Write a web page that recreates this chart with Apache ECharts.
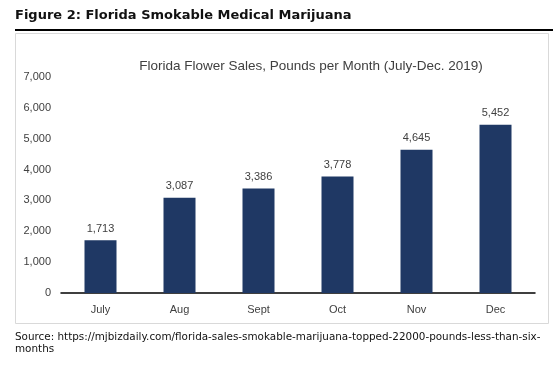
<!DOCTYPE html>
<html><head><meta charset="utf-8">
<script src="https://cdn.jsdelivr.net/npm/echarts@6/dist/echarts.min.js"></script>
<style>html,body{margin:0;padding:0;background:#fff}#c{width:553px;height:368px}</style>
</head><body><div id="c"></div>
<script>
const categories = ["July", "Aug", "Sept", "Oct", "Nov", "Dec"];
const pounds = [1713, 3087, 3386, 3778, 4645, 5452];
const yTicks = [0, 1000, 2000, 3000, 4000, 5000, 6000, 7000];
const figureTitle = "Figure 2: Florida Smokable Medical Marijuana";
const chartTitle = "Florida Flower Sales, Pounds per Month (July-Dec. 2019)";
const sourceLines = ["Source: https://mjbizdaily.com/florida-sales-smokable-marijuana-topped-22000-pounds-less-than-six-", "months"];

const fmt = v => v.toLocaleString("en-US");
const chart = echarts.init(document.getElementById("c"), null, {renderer: "canvas"});
chart.setOption({
  animation: false,
  backgroundColor: "#fff",
  grid: {left: 61, right: 18, top: 77, bottom: 75},
  xAxis: {
    type: "category", data: categories,
    axisLine: {lineStyle: {color: "#000", width: 1.5}},
    axisTick: {show: false},
    axisLabel: {color: "#404040", fontFamily: "Liberation Sans", fontSize: 11, margin: 11}
  },
  yAxis: {
    type: "value", min: yTicks[0], max: yTicks[yTicks.length - 1], interval: 1000,
    axisLine: {show: false}, axisTick: {show: false}, splitLine: {show: false},
    axisLabel: {color: "#404040", fontFamily: "Liberation Sans", fontSize: 11, margin: 10, formatter: v => fmt(v)}
  },
  series: [{
    type: "bar", data: pounds, barWidth: 32,
    itemStyle: {color: "#1f3864"},
    label: {show: true, position: "top", distance: 6, color: "#404040", fontFamily: "Liberation Sans", fontSize: 11, formatter: p => fmt(p.value)}
  }],
  graphic: [
    {type: "text", left: 15, top: 9, style: {text: figureTitle, font: "bold 13px 'DejaVu Sans'", fill: "#111"}},
    {type: "rect", shape: {x: 15, y: 29, width: 538, height: 2}, style: {fill: "#000"}},
    {type: "rect", shape: {x: 15.5, y: 33.5, width: 533, height: 290}, style: {fill: "none", stroke: "#d9d9d9", lineWidth: 1}, z: -1},
    {type: "text", x: 311, y: 66, style: {text: chartTitle, font: "13.5px 'Liberation Sans'", fill: "#404040", align: "center", verticalAlign: "middle"}},
    {type: "text", left: 15, top: 331, style: {text: sourceLines.join("\n"), font: "10.4px 'DejaVu Sans'", fill: "#111", lineHeight: 12}}
  ]
});
</script></body></html>
